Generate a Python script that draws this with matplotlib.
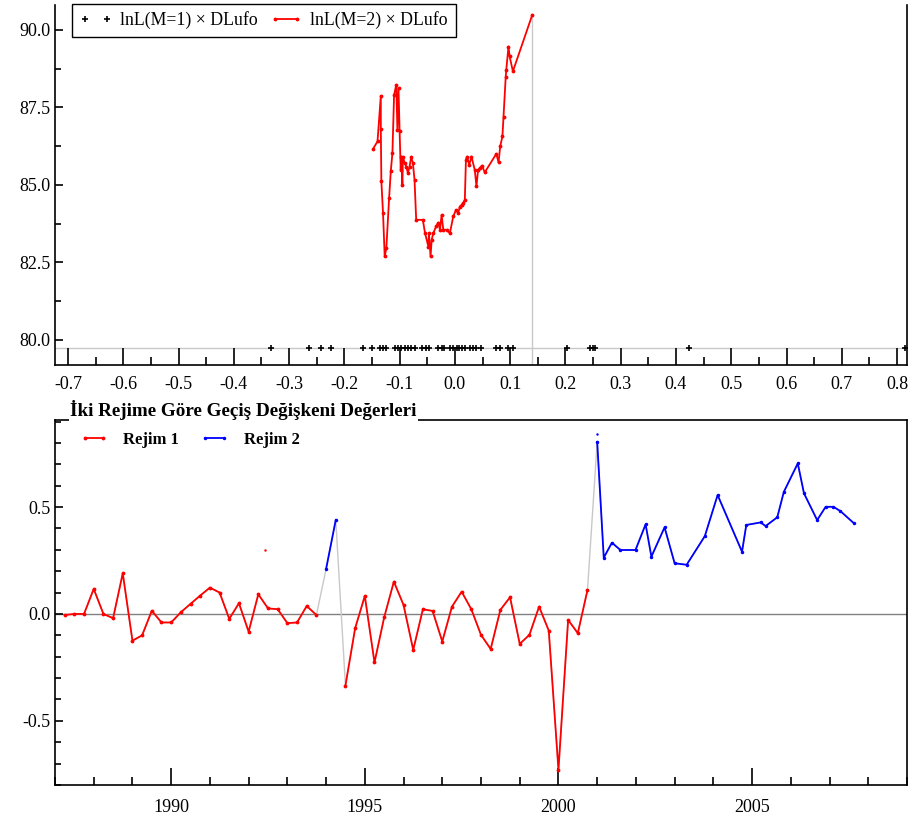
import numpy as np
import matplotlib
matplotlib.use("Agg")
import matplotlib.pyplot as plt
from matplotlib.ticker import MultipleLocator, FormatStrFormatter

plt.rcParams["font.family"] = ["Liberation Serif", "DejaVu Serif"]

# --- Üst panel: eşik adayları ve log-olabilirlik ---
esik_x = [-0.148, -0.140, -0.134, -0.134, -0.133, -0.130, -0.127, -0.124, -0.119, -0.116,
          -0.113, -0.110, -0.106, -0.104, -0.102, -0.100, -0.098, -0.097, -0.095, -0.094,
          -0.091, -0.088, -0.085, -0.082, -0.079, -0.076, -0.073, -0.070, -0.058, -0.054,
          -0.048, -0.047, -0.044, -0.042, -0.039, -0.034, -0.030, -0.027, -0.024, -0.021,
          -0.015, -0.009, -0.003, 0.002, 0.006, 0.009, 0.012, 0.015, 0.018, 0.020,
          0.022, 0.026, 0.030, 0.036, 0.039, 0.042, 0.045, 0.049, 0.054, 0.075,
          0.079, 0.082, 0.086, 0.088, 0.092, 0.093, 0.097, 0.099, 0.105, 0.140]
lnl_m2 = [86.16, 86.40, 87.87, 86.80, 85.11, 84.09, 82.69, 82.96, 84.57, 85.43,
          86.03, 87.90, 88.23, 86.77, 88.12, 86.72, 85.48, 85.91, 85.00, 85.91,
          85.70, 85.59, 85.38, 85.59, 85.91, 85.70, 85.16, 83.87, 83.87, 83.44,
          83.01, 83.44, 82.69, 83.23, 83.44, 83.66, 83.78, 83.55, 84.03, 83.55,
          83.55, 83.44, 83.98, 84.19, 84.09, 84.30, 84.35, 84.41, 84.52, 85.81,
          85.91, 85.65, 85.91, 85.48, 84.95, 85.48, 85.54, 85.62, 85.40, 86.00,
          85.72, 86.24, 86.56, 87.20, 88.49, 88.71, 89.46, 89.14, 88.66, 90.48]

aday_x = [-0.333, -0.264, -0.243, -0.224, -0.166, -0.150, -0.136, -0.130, -0.124, -0.109,
          -0.103, -0.097, -0.091, -0.085, -0.079, -0.073, -0.059, -0.053, -0.047, -0.031,
          -0.024, -0.020, -0.009, -0.003, 0.003, 0.007, 0.013, 0.019, 0.027, 0.033,
          0.039, 0.048, 0.075, 0.081, 0.096, 0.105, 0.202, 0.244, 0.250, 0.253,
          0.424, 0.815]
lnl_m1 = 79.75
esik_max = 0.140

# --- Alt panel: geçiş değişkeni ---
tarih = [1987.25, 1987.5, 1987.75, 1988.0, 1988.25, 1988.5, 1988.75, 1989.0, 1989.25, 1989.5,
         1989.75, 1990.0, 1990.25, 1990.5, 1990.75, 1991.0, 1991.25, 1991.5, 1991.75, 1992.0,
         1992.25, 1992.5, 1992.75, 1993.0, 1993.25, 1993.5, 1993.75, 1994.0, 1994.25, 1994.5,
         1994.75, 1995.0, 1995.25, 1995.5, 1995.75, 1996.0, 1996.25, 1996.5, 1996.75, 1997.0,
         1997.25, 1997.5, 1997.75, 1998.0, 1998.25, 1998.5, 1998.75, 1999.0, 1999.25, 1999.5,
         1999.75, 2000.0, 2000.25, 2000.5, 2000.75,
         2001.0, 2001.17, 2001.38, 2001.6, 2001.99, 2002.25, 2002.4, 2002.74, 2003.0, 2003.31,
         2003.78, 2004.11, 2004.74, 2004.85, 2005.22, 2005.35, 2005.65, 2005.82, 2006.18, 2006.34,
         2006.68, 2006.9, 2007.1, 2007.28, 2007.63]
deger = [-0.005, 0.0, 0.0, 0.117, 0.0, -0.02, 0.19, -0.125, -0.1, 0.015,
         -0.04, -0.04, 0.008, 0.047, 0.086, 0.123, 0.10, -0.023, 0.05, -0.083,
         0.092, 0.026, 0.022, -0.043, -0.04, 0.037, -0.005, 0.21, 0.44, -0.335,
         -0.067, 0.084, -0.227, -0.016, 0.151, 0.042, -0.168, 0.022, 0.014, -0.129,
         0.034, 0.104, 0.022, -0.098, -0.164, 0.019, 0.078, -0.140, -0.098, 0.034,
         -0.078, -0.729, -0.028, -0.09, 0.112,
         0.805, 0.263, 0.333, 0.299, 0.299, 0.419, 0.268, 0.405, 0.237, 0.230,
         0.364, 0.556, 0.291, 0.416, 0.428, 0.411, 0.452, 0.571, 0.704, 0.564,
         0.439, 0.501, 0.501, 0.481, 0.424]
rejim = [1] * 27 + [2] * 2 + [1] * 26 + [2] * 25

tarih = np.array(tarih)
deger = np.array(deger)
rejim = np.array(rejim)

fig = plt.figure(figsize=(9.09, 8.25), dpi=100)

# ===== Üst panel =====
ax1 = fig.add_axes([0.0605, 0.5576, 0.9373, 0.4364])
ax1.axhline(lnl_m1, color="#c8c8c8", lw=1, zorder=1)
ax1.plot([esik_max, esik_max], [79.19, lnl_m2[-1]], color="#c8c8c8", lw=1, zorder=1)
ax1.plot(aday_x, [lnl_m1] * len(aday_x), ls="none", marker="+", ms=4, mew=1.2,
         color="black", label="lnL(M=1) × DLufo", zorder=3)
ax1.plot(esik_x, lnl_m2, color="red", lw=1.3, marker=".", ms=3.5,
         label="lnL(M=2) × DLufo", zorder=2)
ax1.set_xlim(-0.7235, 0.818)
ax1.set_ylim(79.19, 90.8)
ax1.xaxis.set_major_locator(MultipleLocator(0.1))
ax1.xaxis.set_minor_locator(MultipleLocator(0.05))
ax1.yaxis.set_major_locator(MultipleLocator(2.5))
ax1.yaxis.set_minor_locator(MultipleLocator(1.25))
ax1.xaxis.set_major_formatter(FormatStrFormatter("%.1f"))
ax1.yaxis.set_major_formatter(FormatStrFormatter("%.1f"))
ax1.spines["top"].set_visible(False)
ax1.tick_params(which="both", direction="in", labelsize=13, width=1.2)
ax1.tick_params(axis="x", which="major", length=12, pad=8)
ax1.tick_params(axis="x", which="minor", length=6)
ax1.tick_params(axis="y", which="major", length=6)
ax1.tick_params(axis="y", which="minor", length=4)
for s in ax1.spines.values():
    s.set_linewidth(1.2)
leg1 = ax1.legend(loc="upper left", bbox_to_anchor=(0.02, 1.004), ncol=2, fontsize=12.8,
                  frameon=True, fancybox=False, edgecolor="black", framealpha=1,
                  numpoints=2, borderpad=0.45, handlelength=1.8, handletextpad=0.45,
                  columnspacing=0.7, borderaxespad=0)
leg1.get_frame().set_linewidth(1.0)

# ===== Alt panel =====
ax2 = fig.add_axes([0.0605, 0.0485, 0.9373, 0.4424])
ax2.axhline(0, color="#808080", lw=1, zorder=1)
ax2.plot(tarih, deger, color="#c8c8c8", lw=1, zorder=1)
y1 = np.where(rejim == 1, deger, np.nan)
y2 = np.where(rejim == 2, deger, np.nan)
ax2.plot(tarih, y1, color="red", lw=1.3, marker=".", ms=3.5, label="Rejim 1", zorder=2)
ax2.plot(tarih, y2, color="blue", lw=1.3, marker=".", ms=3, label="Rejim 2", zorder=2)
ax2.plot([1992.43], [0.299], ls="none", marker=".", ms=1.5, color="red")
ax2.plot([2001.0], [0.841], ls="none", marker=".", ms=1.5, color="blue")
ax2.set_xlim(1987.0, 2009.0)
ax2.set_ylim(-0.80, 0.907)
ax2.xaxis.set_major_locator(MultipleLocator(5))
ax2.xaxis.set_minor_locator(MultipleLocator(1))
ax2.yaxis.set_major_locator(MultipleLocator(0.5))
ax2.yaxis.set_minor_locator(MultipleLocator(0.1))
ax2.yaxis.set_major_formatter(FormatStrFormatter("%.1f"))
ax2.tick_params(which="both", direction="in", labelsize=13, width=1.2)
ax2.tick_params(axis="x", which="major", length=12, pad=10)
ax2.tick_params(axis="x", which="minor", length=6)
ax2.tick_params(axis="y", which="major", length=6)
ax2.tick_params(axis="y", which="minor", length=4)
for s in ax2.spines.values():
    s.set_linewidth(1.2)
ax2.legend(loc="upper left", bbox_to_anchor=(0.021, 0.986), ncol=2, frameon=False,
           prop={"size": 12, "weight": "bold"}, numpoints=2, handlelength=1.7,
           handletextpad=0.9, columnspacing=1.3, borderaxespad=0)

fig.text(70 / 909, 1 - 410 / 825, "İki Rejime Göre Geçiş Değişkeni Değerleri",
         fontsize=13.8, fontweight="bold", ha="left", va="center",
         bbox=dict(facecolor="white", edgecolor="none", pad=1), zorder=5)

fig.savefig("out.png", dpi=100)
